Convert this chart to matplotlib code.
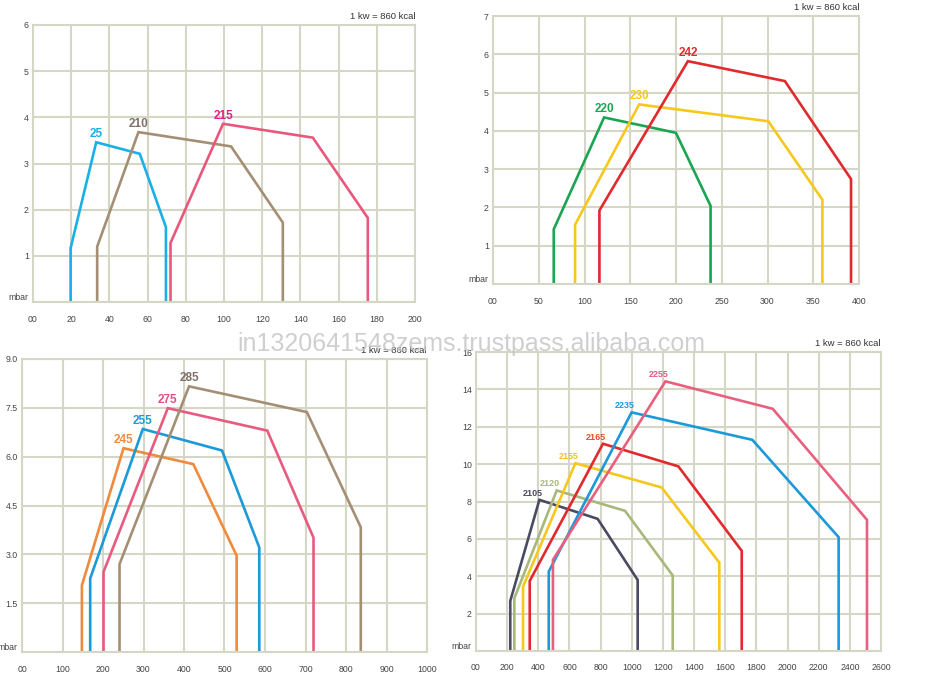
import matplotlib
matplotlib.use("Agg")
import matplotlib.pyplot as plt

plt.rcParams['font.family'] = ['Liberation Sans', 'DejaVu Sans']

GRID = '#d6d6c6'
TICK = '#444444'

# ---- panel 1 : 25 / 210 / 215
p1_names = ["25", "210", "215"]
p1_x = [[19.7, 19.7, 33.1, 55.9, 69.6, 69.6],
        [33.6, 33.6, 55.2, 103.7, 130.8, 130.8],
        [72.0, 72.0, 99.5, 146.5, 175.3, 175.3]]
p1_y = [[0, 1.17, 3.46, 3.21, 1.62, 0],
        [0, 1.20, 3.68, 3.37, 1.72, 0],
        [0, 1.28, 3.86, 3.56, 1.82, 0]]
p1_colors = ['#1ab0e6', '#a48f74', '#e8587c']
p1_label_colors = ['#1ab0e6', '#7d7066', '#e0208c']
p1_xticks = [0, 20, 40, 60, 80, 100, 120, 140, 160, 180, 200]
p1_yticks = [0, 1, 2, 3, 4, 5, 6]

# ---- panel 2 : 220 / 230 / 242
p2_names = ["220", "230", "242"]
p2_x = [[66.4, 66.4, 121.4, 199.9, 237.8, 237.8],
        [89.7, 89.7, 159.7, 300.9, 360.0, 360.0],
        [116.3, 116.3, 213.0, 319.0, 391.3, 391.3]]
p2_y = [[0, 1.43, 4.35, 3.95, 2.04, 0],
        [0, 1.55, 4.69, 4.25, 2.20, 0],
        [0, 1.92, 5.82, 5.30, 2.74, 0]]
p2_colors = ['#1aa552', '#f6c81c', '#e02a2e']
p2_label_colors = ['#1aa552', '#f6c81c', '#e02a2e']
p2_xticks = [0, 50, 100, 150, 200, 250, 300, 350, 400]
p2_yticks = [0, 1, 2, 3, 4, 5, 6, 7]

# ---- panel 3 : 245 / 255 / 275 / 285
p3_names = ["245", "255", "275", "285"]
p3_x = [[147.9, 147.9, 250.6, 423.0, 530.0, 530.0],
        [168.4, 168.4, 298.3, 493.8, 585.9, 585.9],
        [201.3, 201.3, 360.0, 605.6, 719.8, 719.8],
        [240.8, 240.8, 412.5, 703.4, 836.5, 836.5]]
p3_y = [[0, 2.05, 6.26, 5.77, 2.96, 0],
        [0, 2.26, 6.85, 6.19, 3.21, 0],
        [0, 2.46, 7.49, 6.80, 3.51, 0],
        [0, 2.70, 8.16, 7.37, 3.83, 0]]
p3_colors = ['#f08a3c', '#1a9ad8', '#e85a80', '#a48f74']
p3_label_colors = ['#f08a3c', '#1a9ad8', '#e05080', '#7d7066']
p3_xticks = [0, 100, 200, 300, 400, 500, 600, 700, 800, 900, 1000]
p3_yticks = [0, 1.5, 3.0, 4.5, 6.0, 7.5, 9.0]

# ---- panel 4 : 2105 ... 2255
p4_names = ["2105", "2120", "2155", "2165", "2235", "2255"]
p4_x = [[220, 220, 407, 781, 1038, 1038],
        [246, 246, 518, 957, 1263, 1263],
        [302, 302, 638, 1192, 1562, 1562],
        [345, 345, 815, 1299, 1706, 1706],
        [467, 467, 999, 1774, 2328, 2328],
        [494, 494, 1216, 1905, 2510, 2510]]
p4_y = [[0, 2.68, 8.09, 7.07, 3.80, 0],
        [0, 2.82, 8.59, 7.50, 4.04, 0],
        [0, 3.45, 10.05, 8.75, 4.73, 0],
        [0, 3.75, 11.09, 9.88, 5.36, 0],
        [0, 4.25, 12.77, 11.30, 6.09, 0],
        [0, 4.88, 14.43, 12.96, 7.02, 0]]
p4_colors = ['#4a4a62', '#a8b87a', '#f6c81c', '#e02a2e', '#1a9ad8', '#e8607e']
p4_label_colors = ['#4a4a62', '#a8b87a', '#f0c030', '#e0502a', '#1a9ad8', '#e05a80']
p4_xticks = list(range(0, 2601, 200))
p4_yticks = [0, 2, 4, 6, 8, 10, 12, 14, 16]

W, H = 940, 688
fig = plt.figure(figsize=(W / 100, H / 100), dpi=100)


def px_rect(l, t, r, b):
    return [l / W, 1 - b / H, (r - l) / W, (b - t) / H]


def draw_panel(rect, xs, ys, colors, lcolors, names, xticks, yticks,
               ylabels, lsize, loff, header):
    ax = fig.add_axes(rect)
    ax.set_xlim(xticks[0], xticks[-1])
    ax.set_ylim(yticks[0], yticks[-1])
    ax.set_xticks(xticks)
    ax.set_xticklabels(["00"] + [str(t) for t in xticks[1:]])
    ax.set_yticks(yticks)
    ax.set_yticklabels(["mbar"] + ylabels[1:])
    ax.grid(True, color=GRID, linewidth=1.5)
    ax.set_axisbelow(True)
    for s in ax.spines.values():
        s.set_color(GRID)
        s.set_linewidth(1.5)
    ax.tick_params(length=0, labelsize=6.3, colors=TICK)
    ax.tick_params(axis='x', pad=9)
    ax.tick_params(axis='y', pad=3)
    for lab in ax.get_yticklabels()[:1]:
        lab.set_verticalalignment('bottom')
    for x, y, c, lc, n in zip(xs, ys, colors, lcolors, names):
        ax.plot(x, y, color=c, linewidth=1.9, solid_joinstyle='miter')
        i = y.index(max(y))
        ax.annotate(n, (x[i], y[i]), xytext=(loff, 1.5),
                    textcoords='offset points', ha='center', va='bottom',
                    color=lc, fontsize=lsize, fontweight='bold')
    if header:
        ax.text(1.0, 1.015, "1 kw = 860 kcal", transform=ax.transAxes,
                ha='right', va='bottom', fontsize=6.8, color='#333333')
    return ax


draw_panel(px_rect(33, 25, 415, 302), p1_x, p1_y, p1_colors, p1_label_colors,
           p1_names, p1_xticks, p1_yticks, [str(t) for t in p1_yticks],
           8.5, 0, True)
draw_panel(px_rect(493, 16, 859, 284), p2_x, p2_y, p2_colors, p2_label_colors,
           p2_names, p2_xticks, p2_yticks, [str(t) for t in p2_yticks],
           8.5, 0, True)
draw_panel(px_rect(22, 359, 427, 652), p3_x, p3_y, p3_colors, p3_label_colors,
           p3_names, p3_xticks, p3_yticks, ["%.1f" % t for t in p3_yticks],
           8.5, 0, True)
draw_panel(px_rect(476, 352, 881, 651), p4_x, p4_y, p4_colors, p4_label_colors,
           p4_names, p4_xticks, p4_yticks, [str(t) for t in p4_yticks],
           6.5, -5, True)

# site watermark that crosses the two lower panels
fig.text(471 / W, 1 - 344 / H, "in1320641548zems.trustpass.alibaba.com",
         ha='center', va='center', fontsize=18, color='#c4c4c4', alpha=0.8)

fig.savefig("out.png", dpi=100, facecolor='white')
